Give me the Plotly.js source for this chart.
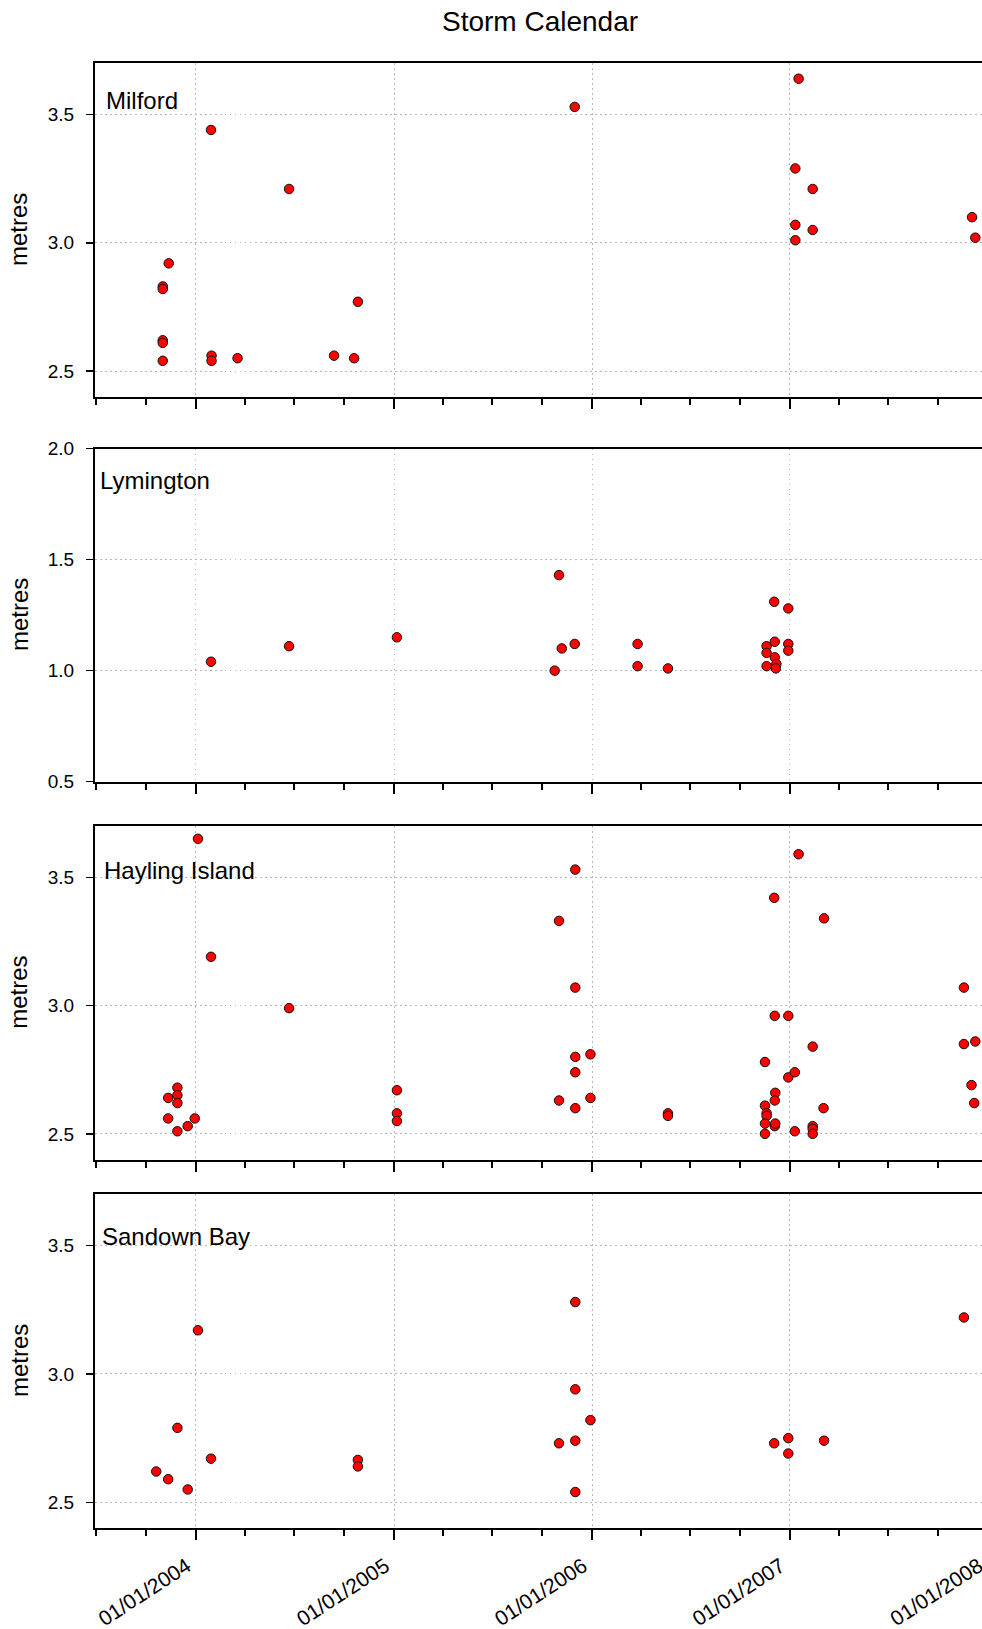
<!DOCTYPE html>
<html>
<head>
<meta charset="utf-8">
<script src="https://cdn.plot.ly/plotly-3.0.1.min.js"></script>
<style>
html,body{margin:0;padding:0;background:#fff;overflow:hidden}
#wrap{width:982px;height:1629px;overflow:hidden;position:relative}
#chart{width:1010px;height:1629px}
</style>
</head>
<body>
<div id="wrap"><div id="chart"></div></div>
<script>
// ---------------- data ----------------
const panelNames = ['Milford', 'Lymington', 'Hayling Island', 'Sandown Bay'];
const yTitle = 'metres';
const chartTitle = 'Storm Calendar';
const xTickFormat = '%d/%m/%Y';

const milfordDates = ['2003-11-01','2003-11-01','2003-11-12','2003-11-01','2003-11-01','2003-11-01',
  '2004-01-29','2004-01-30','2004-01-30','2004-03-18','2004-06-21','2004-09-12','2004-10-19','2004-10-26',
  '2005-11-30','2007-01-17','2007-01-11','2007-02-12','2007-01-11','2007-01-11','2007-02-12',
  '2007-12-03','2007-12-09'];
const milfordValues = [2.83,2.82,2.92,2.62,2.61,2.54,
  3.44,2.56,2.54,2.55,3.21,2.56,2.55,2.77,
  3.53,3.64,3.29,3.21,3.07,3.01,3.05,
  3.10,3.02];

const lymingtonDates = ['2004-01-29','2004-06-21','2005-01-06','2005-11-01','2005-11-06','2005-11-30',
  '2005-10-24','2006-03-26','2006-03-26','2006-05-21','2006-11-19','2006-11-19','2006-11-19',
  '2006-12-03','2006-12-04','2006-12-04','2006-12-07','2006-12-06','2006-12-29','2006-12-29','2006-12-29'];
const lymingtonValues = [1.04,1.11,1.15,1.43,1.10,1.12,
  1.00,1.12,1.02,1.01,1.11,1.08,1.02,
  1.31,1.13,1.06,1.03,1.01,1.28,1.12,1.09];

const haylingDates = ['2004-01-05','2004-01-29','2004-06-21','2003-11-11','2003-11-28','2003-11-28',
  '2003-11-28','2003-11-11','2003-11-28','2003-12-17','2003-12-30',
  '2005-01-06','2005-01-06','2005-01-06',
  '2005-11-01','2005-12-01','2005-12-01','2005-12-01','2005-12-01','2005-11-01','2005-12-01',
  '2005-12-29','2005-12-29','2006-05-21','2006-05-21',
  '2006-11-16','2006-11-16','2006-11-19','2006-11-19','2006-11-16','2006-11-16',
  '2006-12-04','2006-12-29','2006-12-03','2006-12-05','2006-12-04','2006-12-04','2006-12-05',
  '2006-12-29','2007-01-10','2007-01-10','2007-01-17',
  '2007-02-12','2007-02-12','2007-02-12','2007-02-12','2007-03-05','2007-03-04',
  '2007-11-18','2007-11-18','2007-12-09','2007-12-02','2007-12-07'];
const haylingValues = [3.65,3.19,2.99,2.64,2.68,2.65,
  2.62,2.56,2.51,2.53,2.56,
  2.67,2.58,2.55,
  3.33,3.53,3.07,2.80,2.74,2.63,2.60,
  2.81,2.64,2.58,2.57,
  2.78,2.61,2.58,2.57,2.54,2.50,
  2.96,2.96,3.42,2.66,2.63,2.53,2.54,
  2.72,2.74,2.51,3.59,
  2.84,2.53,2.52,2.50,3.34,2.60,
  3.07,2.85,2.86,2.69,2.62];

const sandownDates = ['2003-10-20','2003-11-11','2003-11-28','2003-12-17','2004-01-05','2004-01-29',
  '2004-10-26','2004-10-26','2005-11-01','2005-12-01','2005-12-01','2005-12-01','2005-12-01',
  '2005-12-29','2006-12-03','2006-12-29','2006-12-29','2007-03-05','2007-11-18'];
const sandownValues = [2.62,2.59,2.79,2.55,3.17,2.67,
  2.665,2.64,2.73,3.28,2.94,2.74,2.54,
  2.82,2.73,2.75,2.69,2.74,3.22];

const yRanges = [[2.4, 3.7], [0.5, 2.0], [2.4, 3.7], [2.4, 3.7]];
const xRange = ['2003-06-29', '2008-02-11'];

// ---------------- layout ----------------
const W = 1010, H = 1629, ML = 95;
const px2x = p => (p - ML) / (W - ML);
const py2y = p => 1 - p / H;
const panelPx = [[63.3, 396.7], [448.5, 781.7], [826, 1159.5], [1194.2, 1528]];
const labelPos = [[106, 101], [100, 480.5], [104, 870.5], [102, 1236.5]];

const allDates = [milfordDates, lymingtonDates, haylingDates, sandownDates];
const allValues = [milfordValues, lymingtonValues, haylingValues, sandownValues];

const FONT = 'Liberation Sans, Arial, sans-serif';
const GRID = '#b8b8b8';
const GRIDDASH = '1.5px,3.5px';

const traces = allDates.map((d, i) => ({
  type: 'scatter', mode: 'markers',
  x: d, y: allValues[i],
  xaxis: i === 0 ? 'x' : 'x' + (i + 1),
  yaxis: i === 0 ? 'y' : 'y' + (i + 1),
  marker: {color: '#ff0000', size: 9.5, line: {color: '#111', width: 1}},
  hoverinfo: 'x+y', showlegend: false, cliponaxis: false
}));

const layout = {
  width: W, height: H,
  margin: {l: ML, r: 0, t: 0, b: 0},
  paper_bgcolor: '#fff', plot_bgcolor: '#fff',
  showlegend: false,
  font: {family: FONT, color: '#000'},
  title: {text: chartTitle, x: 540 / W, xanchor: 'center', xref: 'container',
          y: 1 - 21 / H, yanchor: 'middle', yref: 'container',
          font: {family: FONT, size: 28, color: '#000'}},
  annotations: []
};

for (let i = 0; i < 4; i++) {
  const sx = i === 0 ? '' : String(i + 1);
  const [top, bot] = panelPx[i];
  layout['xaxis' + sx] = {
    type: 'date', range: xRange, domain: [0, 1], anchor: 'y' + sx,
    tick0: '2004-01-01', dtick: 'M12', tickformat: xTickFormat,
    ticks: 'outside', ticklen: 10, tickwidth: 2, tickcolor: '#000',
    showline: true, linecolor: '#000', linewidth: 2, mirror: true,
    showgrid: true, gridcolor: GRID, griddash: GRIDDASH, gridwidth: 1,
    zeroline: false, showticklabels: i === 3, tickangle: -33,
    ticklabelstandoff: 6, ticklabelshift: -9,
    tickfont: {family: FONT, size: 21, color: '#000'},
    minor: {dtick: 'M3', ticks: 'outside', ticklen: 6, tickwidth: 2, tickcolor: '#000', showgrid: false},
    fixedrange: true
  };
  layout['yaxis' + sx] = {
    range: yRanges[i], domain: [py2y(bot), py2y(top)], anchor: 'x' + sx,
    tick0: 0, dtick: 0.5, tickformat: '.1f',
    ticks: 'outside', ticklen: 7, tickwidth: 1.5, tickcolor: '#000',
    showline: true, linecolor: '#000', linewidth: 2, mirror: false,
    showgrid: true, gridcolor: GRID, griddash: GRIDDASH, gridwidth: 1,
    zeroline: false, ticklabelstandoff: 8,
    tickfont: {family: FONT, size: 19, color: '#000'},
    fixedrange: true
  };
  layout.annotations.push({
    text: panelNames[i], xref: 'paper', yref: 'paper',
    x: px2x(labelPos[i][0] - 2), y: py2y(labelPos[i][1]),
    xanchor: 'left', yanchor: 'middle', showarrow: false,
    font: {family: FONT, size: 24, color: '#000'}
  });
  layout.annotations.push({
    text: yTitle, xref: 'paper', yref: 'paper',
    x: px2x(19), y: py2y((top + bot) / 2),
    xanchor: 'center', yanchor: 'middle', textangle: -90, showarrow: false,
    font: {family: FONT, size: 24, color: '#000'}
  });
}

Plotly.newPlot('chart', traces, layout, {displayModeBar: false, staticPlot: true});
</script>
</body>
</html>
